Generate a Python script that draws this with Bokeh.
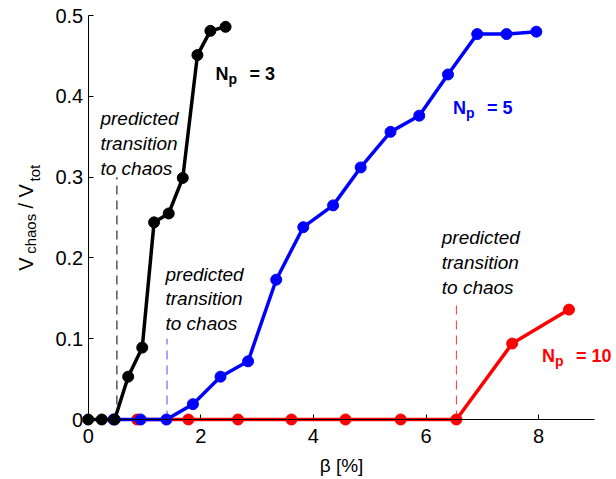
import math
from bokeh.plotting import figure
from bokeh.models import Range1d, FixedTicker, Label, LinearAxis
from bokeh.embed import file_html
from bokeh.resources import INLINE

# ---- data ----
black_x = [0, 0.24, 0.47, 0.71, 0.96, 1.17, 1.43, 1.68, 1.94, 2.17, 2.44]
black_y = [0, 0, 0, 0.053, 0.089, 0.244, 0.255, 0.299, 0.451, 0.481, 0.486]
blue_x = [0.45, 0.93, 1.39, 1.86, 2.35, 2.84, 3.34, 3.82, 4.35, 4.84, 5.37, 5.88, 6.39, 6.91, 7.43, 7.96]
blue_y = [0, 0, 0, 0.019, 0.053, 0.072, 0.173, 0.238, 0.265, 0.312, 0.356, 0.376, 0.427, 0.477, 0.477, 0.480]
red_x = [0.87, 1.78, 2.66, 3.61, 4.57, 5.55, 6.54, 7.53, 8.54]
red_y = [0, 0, 0, 0, 0, 0, 0, 0.094, 0.136]
predicted_x = [0.51, 1.40, 6.54]
predicted_top = [0.30, 0.10, 0.147]
series_names = ["3", "5", "10"]
x_ticks = [0, 2, 4, 6, 8]
y_ticks = [0, 0.1, 0.2, 0.3, 0.4, 0.5]
y_tick_labels = ["0", "0.1", "0.2", "0.3", "0.4", "0.5"]
x_bounds = (0, 9)
y_bounds = (0, 0.5)

BLACK, BLUE, RED = "#000000", "#0000ff", "#ff0000"
FONT = "Liberation Sans"

# the frame covers the whole canvas so that nothing is clipped;
# axes are drawn at fixed data locations (x=0, y=0)
W, H = 616, 479
x0_px, x_scale = 87.7, 56.3      # pixel of x=0, px per unit
y0_px, y_scale = 419.0, 808.0    # pixel (from top) of y=0, px per unit
xr = Range1d(-x0_px / x_scale, (W - x0_px) / x_scale)
yr = Range1d(-(H - y0_px) / y_scale, y0_px / y_scale)

p = figure(width=W, height=H, x_range=xr, y_range=yr,
           output_backend="svg", toolbar_location=None,
           x_axis_location=None, y_axis_location=None, min_border=0)
p.outline_line_color = None
p.grid.visible = False
p.background_fill_color = "white"
p.border_fill_color = "white"

xaxis = LinearAxis(ticker=FixedTicker(ticks=x_ticks), fixed_location=0, bounds=x_bounds)
yaxis = LinearAxis(ticker=FixedTicker(ticks=y_ticks), fixed_location=0, bounds=y_bounds,
                   major_label_overrides={t: l for t, l in zip(y_ticks, y_tick_labels)})
for ax in (xaxis, yaxis):
    ax.major_tick_in = 5
    ax.major_tick_out = 0
    ax.minor_tick_line_color = None
    ax.axis_line_color = "black"
    ax.axis_line_width = 1
    ax.major_tick_line_color = "black"
    ax.major_label_text_font = FONT
    ax.major_label_text_font_size = "20px"
    ax.major_label_text_color = "black"
xaxis.major_label_standoff = 9
yaxis.major_label_standoff = 5
p.add_layout(xaxis, "below")
p.add_layout(yaxis, "left")

# predicted transitions (dashed)
p.segment(x0=predicted_x, y0=[0] * 3, x1=predicted_x, y1=predicted_top,
          line_color=[BLACK, "#4d4dff", "#ff3333"], line_width=1, line_dash="9 6")

for xs, ys, c in ((red_x, red_y, RED), (blue_x, blue_y, BLUE), (black_x, black_y, BLACK)):
    p.line(xs, ys, line_color=c, line_width=3.5)
    p.scatter(xs, ys, size=11, fill_color=c, line_color=c)

txt = "predicted\ntransition\nto chaos"
for (tx, ty) in ((0.218, 0.385), (1.373, 0.193), (6.28, 0.238)):
    p.add_layout(Label(x=tx, y=ty, text=txt, text_font=FONT, text_font_style="italic",
                       text_font_size="19px", text_align="left", text_baseline="top",
                       text_line_height=1.18, text_color="black"))

# N_p labels
for (nx, ny, name, c) in ((2.26, 0.428, series_names[0], BLACK),
                          (6.48, 0.385, series_names[1], BLUE),
                          (8.06, 0.079, series_names[2], RED)):
    common = dict(x=nx, y=ny, text_font=FONT, text_font_style="bold", text_color=c,
                  text_align="left", text_baseline="alphabetic")
    p.add_layout(Label(text="N", text_font_size="18px", **common))
    p.add_layout(Label(text="p", text_font_size="14px", x_offset=13, y_offset=-5, **common))
    p.add_layout(Label(text="= " + name, text_font_size="18px", x_offset=34, **common))

# x axis label
p.add_layout(Label(x=4.5, y=0, y_offset=-46, text="β [%]", text_font=FONT, text_font_size="19px",
                   text_align="center", text_baseline="alphabetic", text_color="black"))

# y axis label: V_chaos / V_tot
ylab = [("V", "20px", 0.184, -62.7), ("chaos", "15px", 0.205, -57.7),
        ("/", "20px", 0.261, -62.7), ("V", "20px", 0.2748, -62.7),
        ("tot", "15px", 0.2946, -53.7)]
for t, fs, yy, xo in ylab:
    p.add_layout(Label(x=0, y=yy, x_offset=xo, text=t, text_font=FONT, text_font_size=fs,
                       angle=math.pi / 2, text_align="left", text_baseline="alphabetic",
                       text_color="black"))

open("out.html", "w").write(file_html(p, INLINE))
